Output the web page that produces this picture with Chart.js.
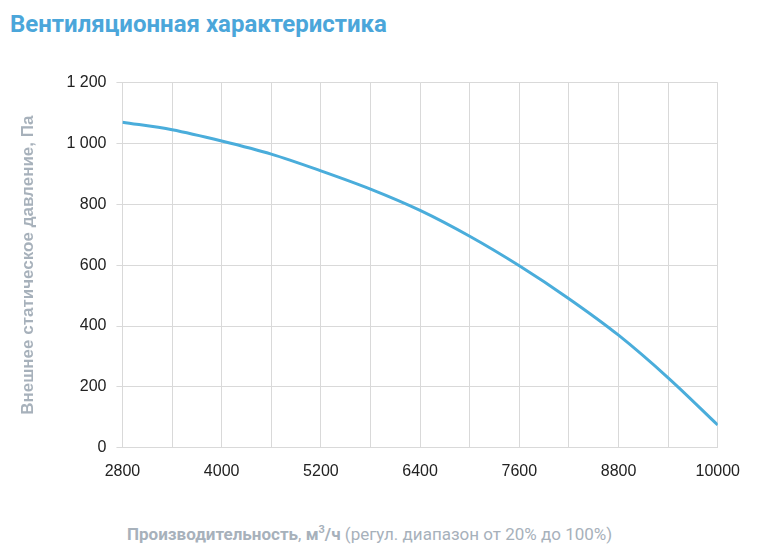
<!DOCTYPE html>
<html><head><meta charset="utf-8">
<script src="https://cdn.jsdelivr.net/npm/chart.js@4"></script>
<style>
body{margin:0;width:758px;height:557px;background:#fff;font-family:Roboto,"Noto Sans",sans-serif;position:relative}
h1{position:absolute;left:10px;top:10px;margin:0;font-size:24px;color:#4ba6da;font-weight:bold}
#wrap{position:absolute;left:0;top:63px;width:754px;height:432px}
#xt{position:absolute;left:127px;top:523px;font-size:17px;color:#a7b1bb}
#xt b{font-weight:bold}
</style></head><body>
<h1>Вентиляционная характеристика</h1>
<div id="wrap"><canvas id="c"></canvas></div>
<div id="xt"><b>Производительность</b>, <b>м<sup style="font-size:11px">3</sup>/ч</b> (регул. диапазон от 20% до 100%)</div>
<script>
const flow = [2800, 3400, 4000, 4600, 5200, 5800, 6400, 7000, 7600, 8200, 8800, 9400, 10000];
const pressure = [1070, 1045, 1008, 965, 910, 850, 780, 695, 598, 490, 370, 230, 75];

new Chart(document.getElementById('c'), {
  type: 'line',
  data: {
    datasets: [{
      data: flow.map((x, i) => ({ x: x, y: pressure[i] })),
      borderColor: '#4aaddb',
      borderWidth: 3,
      pointRadius: 0,
      tension: 0.4,
      cubicInterpolationMode: 'monotone'
    }]
  },
  options: {
    responsive: true,
    maintainAspectRatio: false,
    animation: false,
    plugins: { legend: { display: false }, tooltip: { enabled: false } },
    layout: { padding: { top: 15, left: 14, right: 0 } },
    scales: {
      x: {
        type: 'linear', min: 2800, max: 10000,
        grid: { color: '#d9d9d9', drawTicks: false },
        border: { color: '#d9d9d9' },
        ticks: {
          stepSize: 600, padding: 14, color: '#222', font: { size: 16 }, maxRotation: 0,
          autoSkip: false,
          callback: v => ((v - 2800) % 1200 === 0 ? String(v) : '')
        }
      },
      y: {
        min: 0, max: 1200,
        grid: { color: '#d9d9d9', drawTicks: true, tickLength: 6 },
        border: { color: '#d9d9d9' },
        ticks: {
          stepSize: 200, padding: 10, color: '#222', font: { size: 16 },
          callback: v => String(v).replace(/\B(?=(\d{3})+(?!\d))/g, ' ')
        },
        title: {
          display: true, text: 'Внешнее статическое давление, Па',
          color: '#a7b1bb', font: { size: 17, weight: 'bold' }, padding: { bottom: 18 }
        }
      }
    }
  }
});
</script>
</body></html>
